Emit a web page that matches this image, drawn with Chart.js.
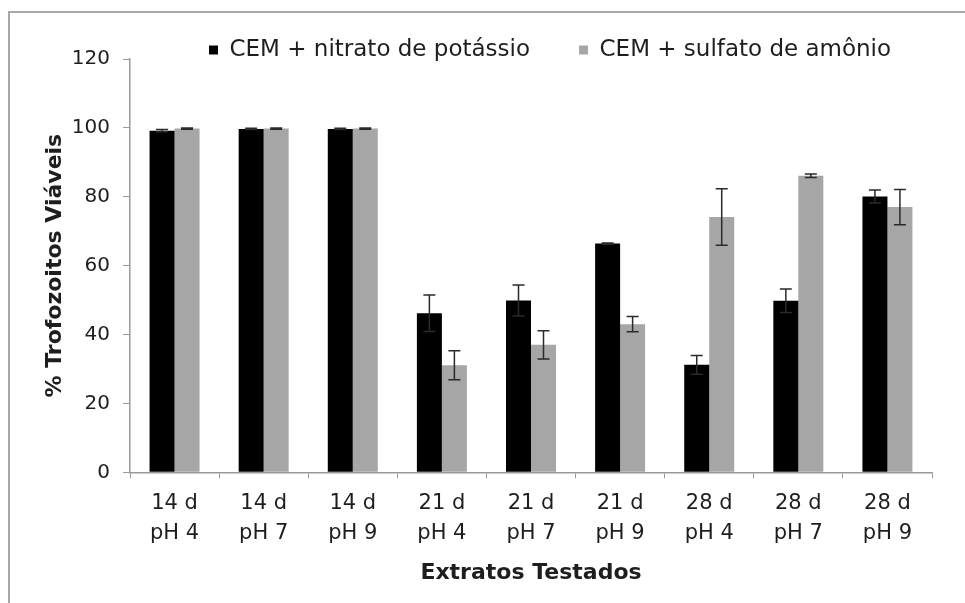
<!DOCTYPE html>
<html>
<head>
<meta charset="utf-8">
<script src="https://cdn.jsdelivr.net/npm/chart.js@4.4.1/dist/chart.umd.min.js"></script>
<style>
  html, body { margin: 0; padding: 0; background: #ffffff; }
  #wrap { position: relative; width: 965px; height: 603px; overflow: hidden; background: #fff; }
  #frame { position: absolute; left: 8px; top: 11px; width: 1200px; height: 900px;
           border-left: 2px solid #a8a8a8; border-top: 2px solid #a8a8a8; }
  canvas { position: absolute; left: 0; top: 0; }
</style>
</head>
<body>
<div id="wrap">
  <div id="frame"></div>
  <canvas id="c" width="965" height="603"></canvas>
</div>
<script>
// ---- data ----
const categories = [
  ['14 d', 'pH 4'], ['14 d', 'pH 7'], ['14 d', 'pH 9'],
  ['21 d', 'pH 4'], ['21 d', 'pH 7'], ['21 d', 'pH 9'],
  ['28 d', 'pH 4'], ['28 d', 'pH 7'], ['28 d', 'pH 9']
];
const seriesNames = ['CEM + nitrato de potássio', 'CEM + sulfato de amônio'];
const nitratoValues = [99.2, 99.7, 99.7, 46.2, 49.9, 66.4, 31.2, 49.8, 80.1];
const nitratoErrors = [0.3, 0.2, 0.2, 5.3, 4.5, 0.2, 2.7, 3.4, 1.9];
const sulfatoValues = [99.8, 99.8, 99.8, 31.1, 37.0, 43.0, 74.1, 86.1, 77.0];
const sulfatoErrors = [0.2, 0.2, 0.2, 4.2, 4.1, 2.2, 8.2, 0.5, 5.1];
const yTicks = { min: 0, max: 120, step: 20 };
const yTitle = '% Trofozoitos Viáveis';
const xTitle = 'Extratos Testados';

const errorsByDataset = [nitratoErrors, sulfatoErrors];

const errorBars = {
  id: 'errorBars',
  afterDatasetsDraw(chart) {
    const ctx = chart.ctx;
    const y = chart.scales.y;
    ctx.save();
    ctx.strokeStyle = '#2a2a2a';
    ctx.lineWidth = 1.5;
    chart.data.datasets.forEach((ds, di) => {
      const meta = chart.getDatasetMeta(di);
      const errs = errorsByDataset[di];
      meta.data.forEach((bar, i) => {
        const v = ds.data[i], e = errs[i];
        const yt = y.getPixelForValue(v + e);
        const yb = y.getPixelForValue(v - e);
        const x = bar.x, cap = 6;
        ctx.beginPath();
        ctx.moveTo(x, yt); ctx.lineTo(x, yb);
        ctx.moveTo(x - cap, yt); ctx.lineTo(x + cap, yt);
        ctx.moveTo(x - cap, yb); ctx.lineTo(x + cap, yb);
        ctx.stroke();
      });
    });
    ctx.restore();
  }
};

const legendPlace = {
  id: 'legendPlace',
  beforeLayout(chart) {
    const lg = chart.legend;
    if (lg && !lg._wrapped) {
      const f = lg.fit;
      lg.fit = function () { f.call(this); this.height = 47; };
      lg._wrapped = true;
    }
  },
  afterLayout(chart) {
    const lg = chart.legend;
    const pad = lg.options.labels.padding;
    const w = lg.right - lg.left;
    lg.left = 209 - pad; lg.right = lg.left + w;
    lg.top = 50 - pad - 11.5; lg.bottom = lg.top + 120;
  }
};

Chart.defaults.font.family = 'DejaVu Sans';
Chart.defaults.color = '#1e1e1e';

new Chart(document.getElementById('c'), {
  type: 'bar',
  data: {
    labels: categories,
    datasets: [
      { label: seriesNames[0], data: nitratoValues, backgroundColor: '#000000', borderWidth: 0 },
      { label: seriesNames[1], data: sulfatoValues, backgroundColor: '#a6a6a6', borderWidth: 0 }
    ]
  },
  options: {
    responsive: false,
    devicePixelRatio: 1,
    animation: false,
    layout: { padding: { left: 10, right: 33, top: 12, bottom: 17 } },
    datasets: { bar: { barPercentage: 1.0, categoryPercentage: 0.561 } },
    plugins: {
      legend: {
        position: 'top',
        align: 'start',
        labels: { boxWidth: 9, boxHeight: 9, padding: 49, color: '#1e1e1e',
                  font: { size: 23, family: 'DejaVu Sans' } }
      },
      tooltip: { enabled: false }
    },
    scales: {
      x: {
        grid: { display: true, drawOnChartArea: false, drawTicks: true, tickLength: 6,
                color: '#9a9a9a', offset: true },
        border: { display: true, color: '#9a9a9a', width: 1.5 },
        ticks: { padding: 10, maxRotation: 0, autoSkip: false,
                 font: { size: 21, lineHeight: 1.43 }, color: '#1e1e1e' },
        title: { display: true, text: xTitle, padding: { top: 0, bottom: 0 },
                 font: { size: 22, weight: 'bold', lineHeight: 1.2 }, color: '#1e1e1e' },
        afterFit(s) { s.height = 113.7; }
      },
      y: {
        min: yTicks.min, max: yTicks.max,
        grid: { display: true, drawOnChartArea: false, drawTicks: true, tickLength: 7, color: '#9a9a9a' },
        border: { display: true, color: '#9a9a9a', width: 1.5 },
        ticks: { stepSize: yTicks.step, padding: 13, font: { size: 20 }, color: '#1e1e1e' },
        title: { display: true, text: yTitle, padding: { top: 32, bottom: 0 },
                 font: { size: 22, weight: 'bold', lineHeight: 1.2 }, color: '#1e1e1e' },
        afterFit(s) { s.width = 120; }
      }
    }
  },
  plugins: [errorBars, legendPlace]
});
</script>
</body>
</html>
